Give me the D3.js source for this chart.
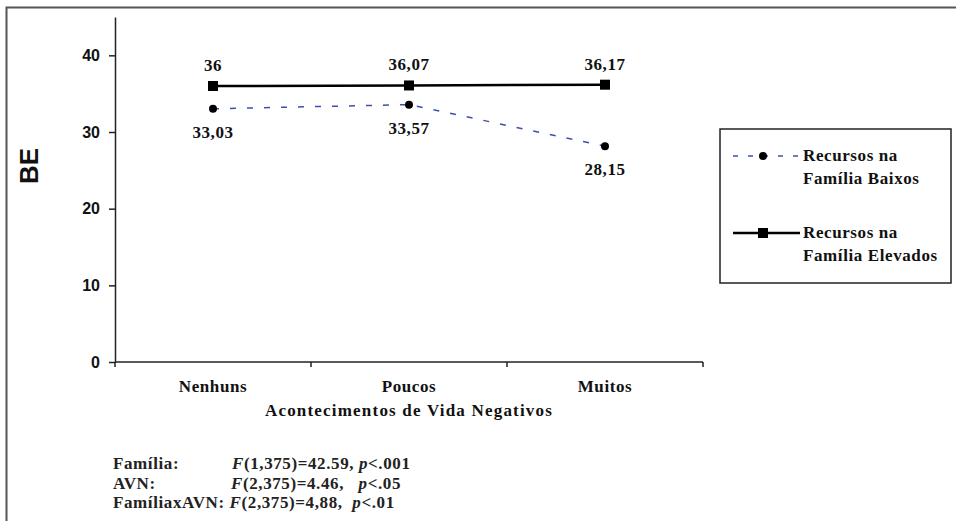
<!DOCTYPE html>
<html>
<head>
<meta charset="utf-8">
<script src="https://cdn.jsdelivr.net/npm/d3@7"></script>
<style>
  body { margin: 0; background: #fff; }
</style>
</head>
<body>
<svg id="chart" width="956" height="521"></svg>
<script>
// Data
var categories = ['Nenhuns', 'Poucos', 'Muitos'];
var baixos = [33.03, 33.57, 28.15];
var elevados = [36, 36.07, 36.17];
var baixosLabels = ['33,03', '33,57', '28,15'];
var elevadosLabels = ['36', '36,07', '36,17'];
var yTicks = [0, 10, 20, 30, 40];
var legendNames = [['Recursos na', 'Família Baixos'], ['Recursos na', 'Família Elevados']];
var stats = [
	['Família:', 'F', '(1,375)=42.59, ', 'p', '<.001'],
	['AVN:', 'F', '(2,375)=4.46,   ', 'p', '<.05'],
	['FamíliaxAVN: ', 'F', '(2,375)=4,88,  ', 'p', '<.01']
];

var SERIF = "'Liberation Serif', 'Times New Roman', Times, serif";
var SANS = "'Liberation Sans', Arial, sans-serif";

var svg = d3.select('#chart');

// Serif bold text helper
function serifText(sel) {
	return sel.style('font-family', SERIF)
		.style('font-weight', 'bold')
		.style('font-size', '17px')
		.style('letter-spacing', '0.6px')
		.attr('fill', '#111');
};

// Outer frame (top and left edges only)
svg.append('path')
	.attr('d', 'M6.5,521 V7.5 H956')
	.attr('fill', 'none')
	.attr('stroke', '#555')
	.attr('stroke-width', 2);

var x = d3.scaleBand().domain(categories).range([115, 703]);
var y = d3.scaleLinear().domain([0, 45]).range([362, 17]);

// Y axis
var yAxis = svg.append('g')
	.attr('transform', 'translate(115,0)')
	.call(d3.axisLeft(y).tickValues(yTicks).tickSize(6).tickSizeOuter(0).tickPadding(9));
yAxis.select('.domain').attr('stroke', '#222').attr('stroke-width', 1.5);
yAxis.selectAll('.tick line').attr('stroke', '#222').attr('stroke-width', 1.5);
yAxis.selectAll('.tick text')
	.style('font-family', SANS)
	.style('font-weight', 'bold')
	.style('font-size', '16px')
	.attr('fill', '#111');

// X axis: ticks at band edges
var xAxis = svg.append('g').attr('transform', 'translate(0,362)');
xAxis.append('line')
	.attr('x1', x.range()[0]).attr('x2', x.range()[1])
	.attr('stroke', '#222').attr('stroke-width', 1.5);
xAxis.selectAll('.edge')
	.data(categories.map(function(c) { return x(c); }).concat([x.range()[1]]))
	.enter().append('line')
	.attr('x1', function(d) { return d; }).attr('x2', function(d) { return d; })
	.attr('y1', 0).attr('y2', 5)
	.attr('stroke', '#222').attr('stroke-width', 1.5);
xAxis.selectAll('.cat')
	.data(categories)
	.enter().append('text')
	.call(serifText)
	.attr('x', function(d) { return x(d) + x.bandwidth() / 2; })
	.attr('y', 30)
	.attr('text-anchor', 'middle')
	.text(function(d) { return d; });

// Axis titles
svg.append('text')
	.call(serifText)
	.style('letter-spacing', '1.2px')
	.attr('x', x(categories[1]) + x.bandwidth() / 2)
	.attr('y', 416)
	.attr('text-anchor', 'middle')
	.text('Acontecimentos de Vida Negativos');

svg.append('text')
	.attr('transform', 'translate(38,166) rotate(-90)')
	.attr('text-anchor', 'middle')
	.style('font-family', SANS)
	.style('font-weight', 'bold')
	.style('font-size', '26px')
	.attr('fill', '#111')
	.text('BE');

var cx = function(d, i) { return x(categories[i]) + x.bandwidth() / 2; };
var line = d3.line().x(cx).y(function(d) { return y(d); });

// Low-resources series (dashed blue, circles)
svg.append('path')
	.datum(baixos)
	.attr('d', line)
	.attr('fill', 'none')
	.attr('stroke', '#3a4fb0')
	.attr('stroke-width', 1.5)
	.attr('stroke-dasharray', '6,11');
svg.selectAll('.dotB')
	.data(baixos)
	.enter().append('circle')
	.attr('cx', cx).attr('cy', function(d) { return y(d); })
	.attr('r', 4).attr('fill', '#000');
svg.selectAll('.labB')
	.data(baixos)
	.enter().append('text')
	.call(serifText)
	.attr('x', cx).attr('y', function(d) { return y(d) + 29; })
	.attr('text-anchor', 'middle')
	.text(function(d, i) { return baixosLabels[i]; });

// High-resources series (solid black, squares)
svg.append('path')
	.datum(elevados)
	.attr('d', line)
	.attr('fill', 'none')
	.attr('stroke', '#000')
	.attr('stroke-width', 2.5);
svg.selectAll('.sqE')
	.data(elevados)
	.enter().append('rect')
	.attr('x', function(d, i) { return cx(d, i) - 5; })
	.attr('y', function(d) { return y(d) - 5; })
	.attr('width', 10).attr('height', 10)
	.attr('fill', '#000');
svg.selectAll('.labE')
	.data(elevados)
	.enter().append('text')
	.call(serifText)
	.attr('x', cx).attr('y', function(d) { return y(d) - 15; })
	.attr('text-anchor', 'middle')
	.text(function(d, i) { return elevadosLabels[i]; });

// Legend
var legend = svg.append('g').attr('transform', 'translate(720,129)');
legend.append('rect')
	.attr('width', 231).attr('height', 154)
	.attr('fill', '#fff').attr('stroke', '#222').attr('stroke-width', 1.5);

var items = legend.selectAll('.item')
	.data(legendNames)
	.enter().append('g')
	.attr('transform', function(d, i) { return 'translate(0,' + (27 + i * 77) + ')'; });
items.append('line')
	.attr('x1', 13).attr('x2', 80)
	.attr('stroke', function(d, i) { return i === 0 ? '#3a4fb0' : '#000'; })
	.attr('stroke-width', function(d, i) { return i === 0 ? 1.5 : 2.5; })
	.attr('stroke-dasharray', function(d, i) { return i === 0 ? '5,10' : null; });
items.each(function(d, i) {
	var g = d3.select(this);
	if (i === 0) {
		g.append('circle').attr('cx', 43).attr('r', 4).attr('fill', '#000');
	} else {
		g.append('rect').attr('x', 38).attr('y', -5).attr('width', 10).attr('height', 10).attr('fill', '#000');
	}
});
items.append('text')
	.call(serifText)
	.attr('x', 83)
	.selectAll('tspan')
	.data(function(d) { return d; })
	.enter().append('tspan')
	.attr('x', 83)
	.attr('y', function(d, i) { return 5 + i * 23; })
	.text(function(d) { return d; });

// Statistics notes: one text per line, label then the F statistic
var stText = svg.selectAll('.stat')
	.data(stats)
	.enter().append('text')
	.call(serifText)
	.attr('fill', '#222')
	.attr('x', 113)
	.attr('y', function(d, i) { return 469 + i * 19.5; })
	.attr('xml:space', 'preserve');
stText.append('tspan').text(function(d) { return d[0]; });
stText.append('tspan')
	.attr('x', function(d, i) { return [232, 231, null][i]; })
	.style('font-style', 'italic')
	.text(function(d) { return d[1]; });
stText.append('tspan').text(function(d) { return d[2]; });
stText.append('tspan').style('font-style', 'italic').text(function(d) { return d[3]; });
stText.append('tspan').text(function(d) { return d[4]; });
</script>
</body>
</html>
